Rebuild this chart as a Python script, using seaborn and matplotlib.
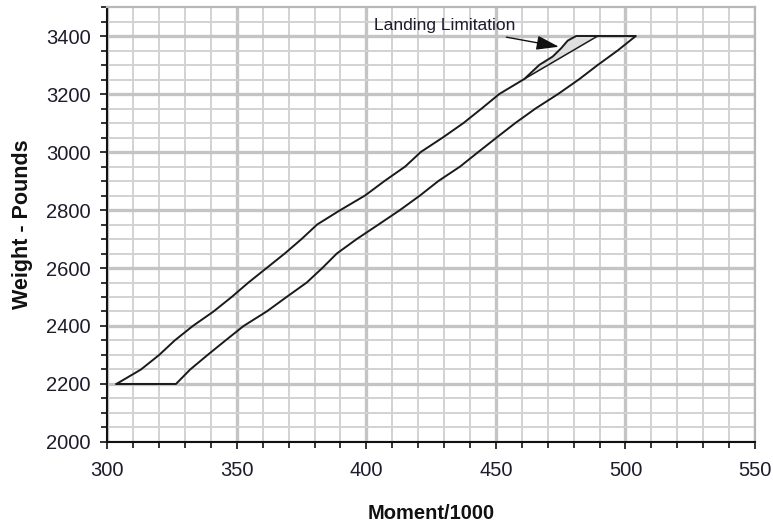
import matplotlib
matplotlib.use("Agg")
import matplotlib.pyplot as plt
from matplotlib.ticker import MultipleLocator
import seaborn as sns
import pandas as pd

# ---- data ----
fwd_weight = [2200, 2250, 2300, 2350, 2400, 2450, 2500, 2550, 2600, 2650, 2700,
              2750, 2800, 2850, 2900, 2950, 3000, 3050, 3100, 3150, 3200, 3252]
fwd_moment = [303.5, 313, 320, 326, 333, 341, 348, 354.5, 361.5, 368.5, 375,
              381, 390, 399.5, 407, 415, 421, 429.5, 437.5, 444.5, 451.3, 461]

landing_weight = [3252, 3300, 3329, 3357, 3384, 3400]
landing_moment = [461, 466.7, 471.9, 475.1, 477.7, 481]

top_weight = [3400, 3400]
top_moment = [481, 504]

aft_weight = [3400, 3350, 3300, 3250, 3200, 3150, 3100, 3050, 3000, 2950, 2900,
              2850, 2800, 2750, 2700, 2650, 2600, 2550, 2500, 2450, 2400, 2350,
              2300, 2250, 2200]
aft_moment = [504, 497, 489.3, 482, 474, 465.3, 457.5, 450.3, 443.2, 436.2, 427.8,
              420.7, 413, 404.7, 396.3, 388.6, 383, 377, 369.2, 361.5, 352.6, 345.6,
              338.7, 332, 326.5]

bottom_weight = [2200, 2200]
bottom_moment = [326.5, 303.5]

normal_weight = [3252, 3400]
normal_moment = [461, 489.3]

x_ticks = [300, 350, 400, 450, 500, 550]
y_ticks = [2000, 2200, 2400, 2600, 2800, 3000, 3200, 3400]

annot_text = "Landing Limitation"

# ---- figure ----
sns.set_style("white")
plt.rcParams['font.family'] = ['Liberation Sans', 'DejaVu Sans']

fig = plt.figure(figsize=(7.73, 5.27), dpi=100)
ax = fig.add_axes([0.1388, 0.1613, 0.9767 - 0.1388, 0.9867 - 0.1613])

outline = pd.DataFrame({
    "moment": fwd_moment + landing_moment + top_moment + aft_moment + bottom_moment,
    "weight": fwd_weight + landing_weight + top_weight + aft_weight + bottom_weight,
})

# shaded landing-limitation sliver
ax.fill(landing_moment + normal_moment[::-1], landing_weight + normal_weight[::-1],
        color="#dedede", zorder=3, linewidth=0)

sns.lineplot(data=outline, x="moment", y="weight", sort=False, estimator=None,
             color="#1a1a1a", linewidth=1.4, ax=ax, zorder=4)
sns.lineplot(x=normal_moment, y=normal_weight, sort=False, estimator=None,
             color="#1a1a1a", linewidth=1.1, ax=ax, zorder=4)

ax.annotate(annot_text, xy=(474.3, 3363), xytext=(457.5, 3435),
            ha="right", va="center", fontsize=12.5, color="#1c1c2c",
            arrowprops=dict(arrowstyle="-|>,head_length=1.1,head_width=0.35",
                            color="#111111", lw=1.0, shrinkA=2, shrinkB=0),
            zorder=5)

ax.set_xlim(300, 550)
ax.set_ylim(2000, 3500)
ax.set_xticks(x_ticks)
ax.set_yticks(y_ticks)
ax.xaxis.set_minor_locator(MultipleLocator(10))
ax.yaxis.set_minor_locator(MultipleLocator(50))

ax.grid(True, which="major", color="#c4c4c4", linewidth=2.4, zorder=0)
ax.grid(True, which="minor", color="#d2d2d2", linewidth=1.4, zorder=0)
ax.set_axisbelow(True)

for s in ("left", "bottom"):
    ax.spines[s].set_color("#111111")
    ax.spines[s].set_linewidth(1.5)
for s in ("top", "right"):
    ax.spines[s].set_color("#b8b8b8")
    ax.spines[s].set_linewidth(1.6)

ax.tick_params(which="both", direction="out", color="#111111", width=1.2,
               bottom=True, left=True)
ax.tick_params(which="major", length=5, labelsize=14.5, labelcolor="#1c1c2c")
ax.tick_params(axis="x", which="major", pad=9)
ax.tick_params(axis="y", which="major", pad=7)
ax.tick_params(which="minor", length=4)

ax.set_xlabel("Moment/1000", fontsize=14.5, fontweight="bold", color="#111111", labelpad=17)
ax.set_ylabel("Weight - Pounds", fontsize=15.5, fontweight="bold", color="#111111", labelpad=9)

fig.savefig("out.png", dpi=100)
